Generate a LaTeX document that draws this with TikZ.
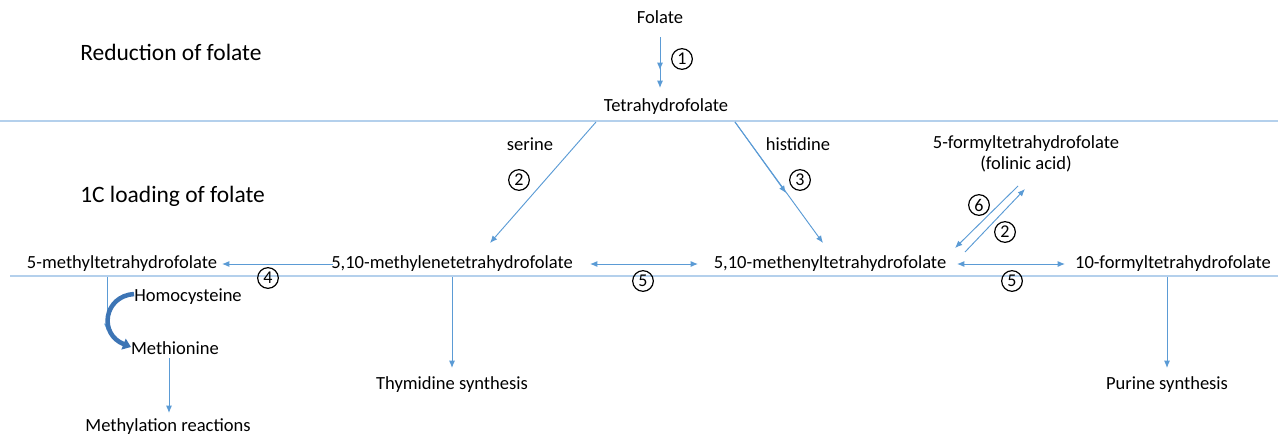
\documentclass[tikz,border=0pt]{standalone}
\usepackage{fontspec}
\setmainfont{Carlito}
\usetikzlibrary{arrows.meta,calc}
\definecolor{arr}{HTML}{5B9BD5}
\definecolor{sepc}{HTML}{B4D0EC}
\definecolor{darkb}{HTML}{3D75B5}
\begin{document}
\begin{tikzpicture}[x=0.75pt,y=-0.75pt,
  txt/.style={font=\fontsize{13.9}{16}\selectfont, inner sep=0pt, align=center},
  head/.style={font=\fontsize{17.6}{20}\selectfont, inner sep=0pt, anchor=west},
  num/.style={circle, draw, line width=0.9pt, inner sep=0.5pt, minimum size=15.5pt, font=\fontsize{13.5}{14}\selectfont},
  conn/.style={arr, line width=0.7pt, -{Latex[length=5.5pt,width=4.5pt]}},
  dconn/.style={arr, line width=0.7pt, {Latex[length=5.5pt,width=4.5pt]}-{Latex[length=5.5pt,width=4.5pt]}},
  sepl/.style={sepc, line width=0.9pt}]
\useasboundingbox (0,0) rectangle (1278,440);

% separators
\draw[sepl] (0,121) -- (1278,121);
\draw[sepl] (10,276) -- (1278,276);

% headings
\node[head] (h1) at (80,52) {Reduction of folate};
\node[head] (h2) at (80,196) {1C loading of folate};

% main nodes
\node[txt] (fol) at (660,17) {Folate};
\node[txt] (thf) at (666,107) {Tetrahydrofolate};
\node[txt] (mthf) at (122,264) {5-methyltetrahydrofolate};
\node[txt] (mlthf) at (452,264) {5,10-methylenetetrahydrofolate};
\node[txt] (mnthf) at (830,264) {5,10-methenyltetrahydrofolate};
\node[txt] (fthf) at (1173,264) {10-formyltetrahydrofolate};
\node[txt] (folin) at (1026,154) {5-formyltetrahydrofolate\\(folinic acid)};
\node[txt] (hcy) at (188,297) {Homocysteine};
\node[txt] (met) at (175,348) {Methionine};
\node[txt] (methy) at (168,427) {Methylation reactions};
\node[txt] (thy) at (452,385) {Thymidine synthesis};
\node[txt] (pur) at (1167,385) {Purine synthesis};
\node[txt] (ser) at (530,144) {serine};
\node[txt] (his) at (798,144) {histidine};

% circled numbers
\node[num] (n1) at (682,59) {1};
\node[num] (n2a) at (519,180) {2};
\node[num] (n3) at (800,180) {3};
\node[num] (n6) at (979,205) {6};
\node[num] (n2b) at (1005,232) {2};
\node[num] (n4) at (268,278) {4};
\node[num] (n5a) at (643,281) {5};
\node[num] (n5b) at (1012,281) {5};

% coordinates
\coordinate (f0) at (660,37);
\coordinate (f1) at (660,70);
\coordinate (f2) at (660,88);
\coordinate (s0) at (596,122);
\coordinate (s1) at (490,243);
\coordinate (h0) at (735,122);
\coordinate (hm) at (786,193);
\coordinate (h1e) at (823,243);
\coordinate (d0) at (1018,186);
\coordinate (d1) at (955,248);
\coordinate (u0) at (965,252);
\coordinate (u1) at (1025,189);
\coordinate (m0) at (333,264);
\coordinate (m1) at (222,264);
\coordinate (e0) at (590,264);
\coordinate (e1) at (698,264);
\coordinate (g0) at (957,264);
\coordinate (g1) at (1065,264);
\coordinate (v0) at (107,277);
\coordinate (v1) at (107,331);
\coordinate (t0) at (452,277);
\coordinate (t1) at (452,368);
\coordinate (p0) at (1167,277);
\coordinate (p1) at (1167,368);
\coordinate (r0) at (169,358);
\coordinate (r1) at (169,413);
\coordinate (c0) at (134,294);
\coordinate (c1) at (131,347);

% connectors
\draw[conn] (f0) -- (f1);
\draw[conn] (f0) -- (f2);
\draw[conn] (s0) -- (s1);
\draw[conn] (h0) -- (hm);
\draw[conn] (h0) -- (h1e);
\draw[conn] (d0) -- (d1);
\draw[conn] (u0) -- (u1);
\draw[conn] (m0) -- (m1);
\draw[dconn] (e0) -- (e1);
\draw[dconn] (g0) -- (g1);
\draw[conn] (v0) -- (v1);
\draw[conn] (t0) -- (t1);
\draw[conn] (p0) -- (p1);
\draw[conn] (r0) -- (r1);

% curved thick arrow homocysteine -> methionine
\draw[darkb, line width=3.4pt, -{Triangle[length=6pt,width=8.5pt]}] (c0) .. controls (104,296) and (98,334) .. (c1);
\end{tikzpicture}
\end{document}
